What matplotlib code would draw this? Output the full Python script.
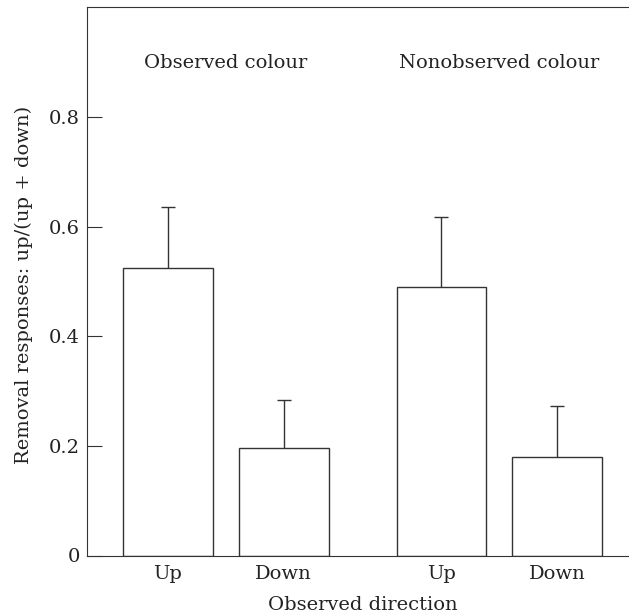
import matplotlib
matplotlib.use("Agg")
import matplotlib.pyplot as plt

categories = ["Up", "Down", "Up", "Down"]
groups = ["Observed colour", "Nonobserved colour"]
values = [0.524, 0.196, 0.490, 0.179]
err_upper = [0.111, 0.087, 0.128, 0.093]
yticks = [0, 0.2, 0.4, 0.6, 0.8]
ytick_labels = ["0", "0.2", "0.4", "0.6", "0.8"]

positions = [0, 1, 2.36, 3.36]
group_centers = [0.5, 2.86]

plt.rcParams['font.family'] = ['DejaVu Serif']
W, H = 629, 615
fig = plt.figure(figsize=(W / 100, H / 100), dpi=100)
ax = fig.add_axes([87.3 / W, (H - 555.5) / H, (W - 87.3) / W, (555.5 - 7.3) / H])

lc = '#333333'
tc = '#222222'
ax.bar(positions, values, width=0.774, color='white', edgecolor=lc, linewidth=1.0, zorder=2)
eb = ax.errorbar(positions, values, yerr=[[0] * 4, err_upper], fmt='none', ecolor=lc,
                 elinewidth=1.0, capsize=4.8, capthick=1.0, zorder=3)
# hide the lower caps (no lower error)
caps = eb[1]
if len(caps) == 2:
    caps[0].set_visible(False)

ax.set_xlim(-0.695, 3.978)
ax.set_ylim(0, 1.0)
ax.set_yticks(yticks)
ax.set_yticklabels(ytick_labels)
ax.set_xticks(positions)
ax.set_xticklabels(categories)
ax.tick_params(axis='y', direction='in', length=10.8, width=0.8, color=lc, pad=5.2,
               labelsize=14, labelcolor=tc)
ax.tick_params(axis='x', length=0, pad=7, labelsize=14, labelcolor=tc)
for s in ['left', 'bottom', 'top']:
    ax.spines[s].set_color(lc)
    ax.spines[s].set_linewidth(0.8)
ax.spines['right'].set_visible(False)

for gc, g in zip(group_centers, groups):
    ax.text(gc, 0.8893, g, ha='center', va='baseline', fontsize=14, color=tc)

ax.set_ylabel("Removal responses: up/(up + down)", fontsize=14, color=tc)
ax.yaxis.set_label_coords(-0.1002, 0.4934)
ax.set_xlabel("Observed direction", fontsize=14, color=tc)
ax.xaxis.set_label_coords(0.508, -0.0735)

fig.savefig("out.png", dpi=100)
